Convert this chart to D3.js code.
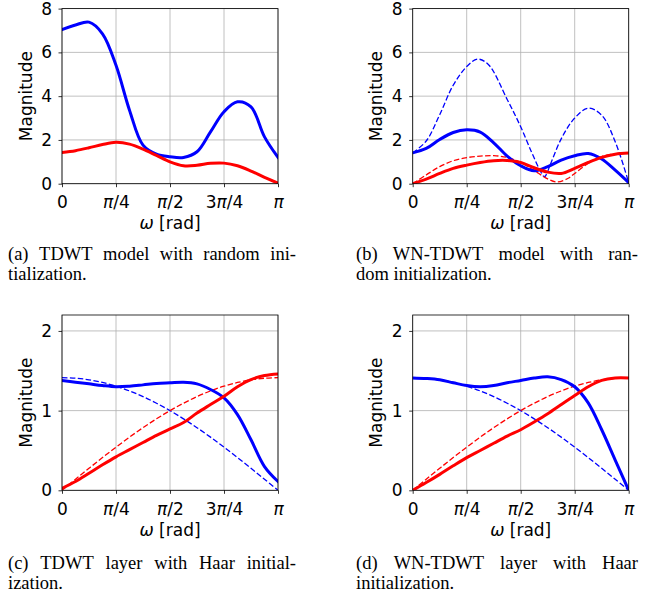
<!DOCTYPE html>
<html><head><meta charset="utf-8">
<script src="https://cdn.jsdelivr.net/npm/d3@7"></script>
<style>
html,body{margin:0;padding:0;background:#fff;}
svg{display:block;}
</style>
</head><body>
<svg id="chart" width="662" height="598"></svg>
<script>
// ---------- data (x in multiples of pi) ----------
const xTickVals = [0, 0.25, 0.5, 0.75, 1];
const xTickLabels = ["0", "π/4", "π/2", "3π/4", "π"];
const yTicksTop = [0, 2, 4, 6, 8];
const yTicksBottom = [0, 1, 2];
const grid16 = [0, 0.0625, 0.125, 0.1875, 0.25, 0.3125, 0.375, 0.4375, 0.5,
                0.5625, 0.625, 0.6875, 0.75, 0.8125, 0.875, 0.9375, 1];

// (a) TDWT model, random init
const aBlue = [7.04, 7.25, 7.38, 6.85, 5.41, 3.36, 1.76, 1.35, 1.23, 1.20, 1.46, 2.37, 3.29, 3.74, 3.51, 2.14, 1.20];
const aRed  = [1.43, 1.51, 1.64, 1.79, 1.89, 1.81, 1.58, 1.29, 1.00, 0.82, 0.84, 0.93, 0.94, 0.82, 0.58, 0.29, 0.03];

// (b) WN-TDWT model, random init
const bBlue = [1.41, 1.61, 2.02, 2.34, 2.46, 2.36, 1.87, 1.26, 0.82, 0.59, 0.78, 1.08, 1.28, 1.38, 1.13, 0.62, 0.05];
const bRed  = [0.00, 0.21, 0.47, 0.70, 0.85, 0.97, 1.05, 1.06, 0.97, 0.73, 0.53, 0.47, 0.70, 0.97, 1.20, 1.35, 1.40];
const bBlueDashX = [0, 0.0625, 0.125, 0.1875, 0.25, 0.30, 0.35, 0.4375, 0.5, 0.55, 0.59, 0.61, 0.64, 0.6875, 0.75, 0.8125, 0.875, 0.9375, 1];
const bBlueDash  = [1.41, 1.95, 3.15, 4.50, 5.35, 5.69, 5.45, 3.85, 2.60, 1.45, 0.60, 0.32, 0.95, 2.05, 3.00, 3.45, 3.13, 1.92, 0.05];
const bRedDashX = [0, 0.0625, 0.125, 0.1875, 0.25, 0.3125, 0.375, 0.4375, 0.5, 0.5625, 0.625, 0.67, 0.72, 0.75, 0.8125, 0.875, 0.9375, 1];
const bRedDash  = [0.00, 0.40, 0.78, 1.05, 1.19, 1.26, 1.28, 1.20, 0.97, 0.60, 0.22, 0.08, 0.25, 0.47, 0.93, 1.24, 1.37, 1.40];

// Haar reference responses (dashed, panels c and d)
const haarLow  = [1.414, 1.407, 1.387, 1.353, 1.307, 1.247, 1.176, 1.093, 1.000, 0.897, 0.786, 0.667, 0.541, 0.411, 0.276, 0.139, 0.000];
const haarHigh = [0.000, 0.139, 0.276, 0.411, 0.541, 0.667, 0.786, 0.897, 1.000, 1.093, 1.176, 1.247, 1.307, 1.353, 1.387, 1.407, 1.414];

// (c) TDWT layer, Haar init
const cBlue = [1.378, 1.357, 1.336, 1.315, 1.300, 1.307, 1.323, 1.340, 1.349, 1.357, 1.336, 1.265, 1.160, 0.950, 0.634, 0.298, 0.110];
const cRed  = [0.025, 0.110, 0.214, 0.320, 0.420, 0.510, 0.600, 0.690, 0.770, 0.850, 0.970, 1.076, 1.180, 1.300, 1.390, 1.440, 1.460];

// (d) WN-TDWT layer, Haar init
const dBlue = [1.410, 1.403, 1.387, 1.350, 1.315, 1.300, 1.315, 1.350, 1.378, 1.408, 1.424, 1.390, 1.300, 1.097, 0.760, 0.380, 0.000];
const dRed  = [0.000, 0.097, 0.200, 0.307, 0.410, 0.500, 0.590, 0.680, 0.760, 0.857, 0.960, 1.076, 1.190, 1.300, 1.380, 1.410, 1.410];

const capA = ["(a) TDWT model with random ini-", "tialization."];
const capB = ["(b) WN-TDWT model with ran-", "dom initialization."];
const capC = ["(c) TDWT layer with Haar initial-", "ization."];
const capD = ["(d) WN-TDWT layer with Haar", "initialization."];

// ---------- layout ----------
const BLUE = "#0000ff", RED = "#ff0000";
const zip = (xs, ys) => xs.map((x, i) => [x, ys[i]]);
const solid = (xs, ys, color) => ({pts: zip(xs, ys), color, dashed: false});
const dashed = (xs, ys, color) => ({pts: zip(xs, ys), color, dashed: true});

const panels = [
  {id: "a", x0: 62, x1: 278, y0: 8.6, y1: 183.7, yMax: 8, yTicks: yTicksTop,
   series: [solid(grid16, aBlue, BLUE), solid(grid16, aRed, RED)],
   caption: capA, cx0: 8, cx1: 296, cy: 259.5},
  {id: "b", x0: 412.7, x1: 628.7, y0: 8.6, y1: 183.7, yMax: 8, yTicks: yTicksTop,
   series: [dashed(bBlueDashX, bBlueDash, BLUE), dashed(bRedDashX, bRedDash, RED),
            solid(grid16, bBlue, BLUE), solid(grid16, bRed, RED)],
   caption: capB, cx0: 356, cx1: 638, cy: 259.5},
  {id: "c", x0: 62, x1: 278, y0: 315, y1: 490.3, yMax: 2.2, yTicks: yTicksBottom,
   series: [dashed(grid16, haarLow, BLUE), dashed(grid16, haarHigh, RED),
            solid(grid16, cBlue, BLUE), solid(grid16, cRed, RED)],
   caption: capC, cx0: 8, cx1: 296, cy: 568.5},
  {id: "d", x0: 412.7, x1: 628.7, y0: 315, y1: 490.3, yMax: 2.2, yTicks: yTicksBottom,
   series: [dashed(grid16, haarLow, BLUE), dashed(grid16, haarHigh, RED),
            solid(grid16, dBlue, BLUE), solid(grid16, dRed, RED)],
   caption: capD, cx0: 356, cx1: 638, cy: 568.5}
];

const svg = d3.select("#chart");
const FONT = "'DejaVu Sans', sans-serif";
const SERIF = "'Liberation Serif', 'Times New Roman', serif";

function mathLabel(sel, label) {
  sel.text(null);
  const parts = label.split(/(π)/).filter(s => s.length);
  parts.forEach(p => {
    sel.append("tspan").attr("font-style", p === "π" ? "italic" : "normal").text(p);
  });
}

panels.forEach(p => {
  const x = d3.scaleLinear().domain([0, Math.PI]).range([p.x0, p.x1]);
  const y = d3.scaleLinear().domain([0, p.yMax]).range([p.y1, p.y0]);
  const g = svg.append("g");

  // grid
  g.append("g").selectAll("line").data(xTickVals).join("line")
    .attr("x1", d => x(d * Math.PI)).attr("x2", d => x(d * Math.PI))
    .attr("y1", p.y0).attr("y2", p.y1)
    .attr("stroke", "#b0b0b0").attr("stroke-width", 0.8);
  g.append("g").selectAll("line").data(p.yTicks).join("line")
    .attr("x1", p.x0).attr("x2", p.x1)
    .attr("y1", d => y(d)).attr("y2", d => y(d))
    .attr("stroke", "#b0b0b0").attr("stroke-width", 0.8);

  const clipId = "clip-" + p.id;
  svg.append("clipPath").attr("id", clipId).append("rect")
    .attr("x", p.x0).attr("y", p.y0).attr("width", p.x1 - p.x0).attr("height", p.y1 - p.y0);

  const line = d3.line().x(d => x(d[0] * Math.PI)).y(d => y(d[1])).curve(d3.curveCatmullRom.alpha(0.5));
  const lg = g.append("g").attr("clip-path", `url(#${clipId})`);
  p.series.forEach(s => {
    lg.append("path").attr("d", line(s.pts)).attr("fill", "none")
      .attr("stroke", s.color)
      .attr("stroke-width", s.dashed ? 1.3 : 3)
      .attr("stroke-dasharray", s.dashed ? "5.5,2.4" : null)
      .attr("stroke-linecap", s.dashed ? "butt" : "square")
      .attr("stroke-linejoin", "round");
  });

  const ax = g.append("g").attr("transform", `translate(0,${p.y1})`)
    .call(d3.axisBottom(x).tickValues(xTickVals.map(v => v * Math.PI)).tickSize(3.5).tickPadding(8.9).tickSizeOuter(0)
      .tickFormat((d, i) => xTickLabels[i]));
  ax.selectAll(".tick text").each(function(d, i) { mathLabel(d3.select(this), xTickLabels[i]); });
  const ay = g.append("g").attr("transform", `translate(${p.x0},0)`)
    .call(d3.axisLeft(y).tickValues(p.yTicks).tickSize(3.5).tickPadding(6.5).tickSizeOuter(0).tickFormat(d3.format("d")));
  [ax, ay].forEach(a => {
    a.select(".domain").remove();
    a.selectAll("line").attr("stroke", "#000").attr("stroke-width", 0.8);
    a.selectAll("text").attr("font-family", FONT).attr("font-size", 17).attr("fill", "#000");
  });

  g.append("rect").attr("x", p.x0).attr("y", p.y0).attr("width", p.x1 - p.x0).attr("height", p.y1 - p.y0)
    .attr("fill", "none").attr("stroke", "#000").attr("stroke-width", 0.8);

  const xl = g.append("text").attr("x", (p.x0 + p.x1) / 2).attr("y", p.y1 + 45.5)
    .attr("text-anchor", "middle").attr("font-family", FONT).attr("font-size", 17);
  xl.append("tspan").attr("font-style", "italic").text("ω");
  xl.append("tspan").text(" [rad]");
  g.append("text").attr("transform", `translate(${p.x0 - 30.5},${(p.y0 + p.y1) / 2}) rotate(-90)`)
    .attr("text-anchor", "middle").attr("font-family", FONT).attr("font-size", 17).text("Magnitude");

  // caption (justified first line)
  const cg = g.append("g").attr("font-family", SERIF).attr("font-size", 18.5).attr("fill", "#000");
  p.caption.forEach((ln, li) => {
    const yy = p.cy + li * 20;
    if (li === p.caption.length - 1) {
      cg.append("text").attr("x", p.cx0).attr("y", yy).text(ln);
      return;
    }
    const words = ln.split(" ");
    const nodes = words.map(w => cg.append("text").attr("y", yy).text(w));
    const widths = nodes.map(n => n.node().getComputedTextLength());
    const total = d3.sum(widths);
    const gap = (p.cx1 - p.cx0 - total) / (words.length - 1);
    let cx = p.cx0;
    nodes.forEach((n, i) => { n.attr("x", cx); cx += widths[i] + gap; });
  });
});
</script>
</body></html>
